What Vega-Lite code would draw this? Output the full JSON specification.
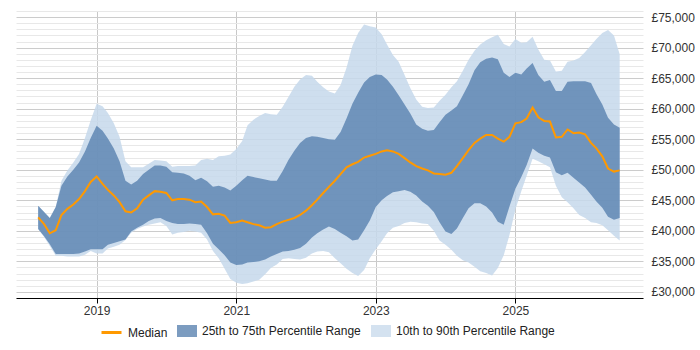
{
  "$schema": "https://vega.github.io/schema/vega-lite/v6.json",
  "width": 627,
  "height": 287,
  "autosize": {"type": "pad"},
  "padding": {"left": 16, "top": 5, "right": 0, "bottom": 0},
  "config": {"view": {"stroke": null}, "font": "Liberation Sans"},
  "data": {"values": [
    {"d":"2018-03-01","p10":40300,"p25":40300,"p50":42200,"p75":44100,"p90":44100},
    {"d":"2018-04-01","p10":39000,"p25":39100,"p50":41100,"p75":43100,"p90":43100},
    {"d":"2018-05-01","p10":37500,"p25":37800,"p50":39600,"p75":42100,"p90":42100},
    {"d":"2018-06-01","p10":35900,"p25":36200,"p50":40100,"p75":43900,"p90":43900},
    {"d":"2018-07-01","p10":35900,"p25":36200,"p50":42600,"p75":47400,"p90":48200},
    {"d":"2018-08-01","p10":35800,"p25":36200,"p50":43600,"p75":48900,"p90":49900},
    {"d":"2018-09-01","p10":35800,"p25":36200,"p50":44300,"p75":50000,"p90":51200},
    {"d":"2018-10-01","p10":35800,"p25":36300,"p50":45200,"p75":51200,"p90":52600},
    {"d":"2018-11-01","p10":36100,"p25":36600,"p50":46500,"p75":53000,"p90":55200},
    {"d":"2018-12-01","p10":36700,"p25":37000,"p50":48000,"p75":55200,"p90":58100},
    {"d":"2019-01-01","p10":36300,"p25":37000,"p50":48900,"p75":57200,"p90":60800},
    {"d":"2019-02-01","p10":36300,"p25":37000,"p50":47700,"p75":56400,"p90":60400},
    {"d":"2019-03-01","p10":37100,"p25":37700,"p50":46700,"p75":55100,"p90":59300},
    {"d":"2019-04-01","p10":37400,"p25":38000,"p50":45800,"p75":53500,"p90":57600},
    {"d":"2019-05-01","p10":37700,"p25":38300,"p50":44700,"p75":51400,"p90":55400},
    {"d":"2019-06-01","p10":38500,"p25":38600,"p50":43200,"p75":48200,"p90":51400},
    {"d":"2019-07-01","p10":39700,"p25":39900,"p50":43000,"p75":47600,"p90":50400},
    {"d":"2019-08-01","p10":40300,"p25":40500,"p50":43700,"p75":48200,"p90":50400},
    {"d":"2019-09-01","p10":40700,"p25":41000,"p50":45100,"p75":49300,"p90":50400},
    {"d":"2019-10-01","p10":41000,"p25":41600,"p50":45800,"p75":50000,"p90":51000},
    {"d":"2019-11-01","p10":41200,"p25":42000,"p50":46500,"p75":50700,"p90":51600},
    {"d":"2019-12-01","p10":41400,"p25":42100,"p50":46400,"p75":50700,"p90":51500},
    {"d":"2020-01-01","p10":40800,"p25":41600,"p50":46200,"p75":50500,"p90":51400},
    {"d":"2020-02-01","p10":39400,"p25":41300,"p50":45000,"p75":49600,"p90":50500},
    {"d":"2020-03-01","p10":39700,"p25":41100,"p50":45200,"p75":49500,"p90":50600},
    {"d":"2020-04-01","p10":39800,"p25":41100,"p50":45200,"p75":49400,"p90":50600},
    {"d":"2020-05-01","p10":40000,"p25":41200,"p50":45100,"p75":49000,"p90":50600},
    {"d":"2020-06-01","p10":39900,"p25":41100,"p50":44700,"p75":48300,"p90":50700},
    {"d":"2020-07-01","p10":39700,"p25":41000,"p50":44800,"p75":48700,"p90":51600},
    {"d":"2020-08-01","p10":38600,"p25":39600,"p50":43900,"p75":48100,"p90":51800},
    {"d":"2020-09-01","p10":36700,"p25":37900,"p50":42700,"p75":47200,"p90":51600},
    {"d":"2020-10-01","p10":35500,"p25":37000,"p50":42800,"p75":47400,"p90":52200},
    {"d":"2020-11-01","p10":33800,"p25":36000,"p50":42500,"p75":47100,"p90":52300},
    {"d":"2020-12-01","p10":32100,"p25":34800,"p50":41300,"p75":46600,"p90":52500},
    {"d":"2021-01-01","p10":31500,"p25":34400,"p50":41400,"p75":47400,"p90":53400},
    {"d":"2021-02-01","p10":31300,"p25":34500,"p50":41700,"p75":48300,"p90":54700},
    {"d":"2021-03-01","p10":31400,"p25":34800,"p50":41400,"p75":49000,"p90":57300},
    {"d":"2021-04-01","p10":31700,"p25":34900,"p50":41100,"p75":48800,"p90":58200},
    {"d":"2021-05-01","p10":32000,"p25":35000,"p50":40900,"p75":48600,"p90":58800},
    {"d":"2021-06-01","p10":32900,"p25":35300,"p50":40500,"p75":48400,"p90":59300},
    {"d":"2021-07-01","p10":33900,"p25":35800,"p50":40600,"p75":48200,"p90":59100},
    {"d":"2021-08-01","p10":34500,"p25":36200,"p50":41100,"p75":48200,"p90":59000},
    {"d":"2021-09-01","p10":35400,"p25":36600,"p50":41500,"p75":49800,"p90":60300},
    {"d":"2021-10-01","p10":35500,"p25":36700,"p50":41800,"p75":51600,"p90":61900},
    {"d":"2021-11-01","p10":35400,"p25":36900,"p50":42100,"p75":53100,"p90":63600},
    {"d":"2021-12-01","p10":35300,"p25":37200,"p50":42600,"p75":54400,"p90":64800},
    {"d":"2022-01-01","p10":35600,"p25":37900,"p50":43300,"p75":55200,"p90":65500},
    {"d":"2022-02-01","p10":36300,"p25":38900,"p50":44200,"p75":55500,"p90":65400},
    {"d":"2022-03-01","p10":36600,"p25":39600,"p50":45100,"p75":55400,"p90":64400},
    {"d":"2022-04-01","p10":36700,"p25":40200,"p50":46200,"p75":55200,"p90":63500},
    {"d":"2022-05-01","p10":36500,"p25":40700,"p50":47200,"p75":55000,"p90":62800},
    {"d":"2022-06-01","p10":35500,"p25":40300,"p50":48200,"p75":54900,"p90":62500},
    {"d":"2022-07-01","p10":34700,"p25":39700,"p50":49300,"p75":56200,"p90":63900},
    {"d":"2022-08-01","p10":33800,"p25":39100,"p50":50400,"p75":58400,"p90":66700},
    {"d":"2022-09-01","p10":33100,"p25":38400,"p50":50900,"p75":60800,"p90":70300},
    {"d":"2022-10-01","p10":32600,"p25":38600,"p50":51300,"p75":62600,"p90":72400},
    {"d":"2022-11-01","p10":33600,"p25":40100,"p50":52000,"p75":64300,"p90":73800},
    {"d":"2022-12-01","p10":35500,"p25":41700,"p50":52300,"p75":65200,"p90":73500},
    {"d":"2023-01-01","p10":37000,"p25":43900,"p50":52600,"p75":65600,"p90":73300},
    {"d":"2023-02-01","p10":38300,"p25":45000,"p50":53000,"p75":65500,"p90":72200},
    {"d":"2023-03-01","p10":39600,"p25":45700,"p50":53200,"p75":64800,"p90":70500},
    {"d":"2023-04-01","p10":40500,"p25":46300,"p50":53000,"p75":63600,"p90":68800},
    {"d":"2023-05-01","p10":40800,"p25":46500,"p50":52600,"p75":62200,"p90":67700},
    {"d":"2023-06-01","p10":41300,"p25":46700,"p50":51900,"p75":60700,"p90":65500},
    {"d":"2023-07-01","p10":41500,"p25":46400,"p50":51200,"p75":59200,"p90":63400},
    {"d":"2023-08-01","p10":41400,"p25":45800,"p50":50600,"p75":57400,"p90":61500},
    {"d":"2023-09-01","p10":41200,"p25":44800,"p50":50200,"p75":56700,"p90":60300},
    {"d":"2023-10-01","p10":41100,"p25":44100,"p50":49900,"p75":56400,"p90":60100},
    {"d":"2023-11-01","p10":40000,"p25":43100,"p50":49400,"p75":56500,"p90":60200},
    {"d":"2023-12-01","p10":38400,"p25":41400,"p50":49300,"p75":57800,"p90":61300},
    {"d":"2024-01-01","p10":37700,"p25":39900,"p50":49200,"p75":59000,"p90":62300},
    {"d":"2024-02-01","p10":36900,"p25":39500,"p50":49500,"p75":59700,"p90":63500},
    {"d":"2024-03-01","p10":35900,"p25":40400,"p50":50600,"p75":60400,"p90":64500},
    {"d":"2024-04-01","p10":35200,"p25":42100,"p50":51900,"p75":62200,"p90":66200},
    {"d":"2024-05-01","p10":34800,"p25":43700,"p50":53200,"p75":64000,"p90":68000},
    {"d":"2024-06-01","p10":34100,"p25":44500,"p50":54400,"p75":66300,"p90":69500},
    {"d":"2024-07-01","p10":33400,"p25":44500,"p50":55100,"p75":67600,"p90":70500},
    {"d":"2024-08-01","p10":33100,"p25":44000,"p50":55700,"p75":68200,"p90":71200},
    {"d":"2024-09-01","p10":32700,"p25":43000,"p50":55700,"p75":68400,"p90":71700},
    {"d":"2024-10-01","p10":33900,"p25":41500,"p50":55100,"p75":68100,"p90":72100},
    {"d":"2024-11-01","p10":36000,"p25":41000,"p50":54600,"p75":65900,"p90":70600},
    {"d":"2024-12-01","p10":39300,"p25":44000,"p50":55400,"p75":65200,"p90":70200},
    {"d":"2025-01-01","p10":43500,"p25":46900,"p50":57600,"p75":65900,"p90":71400},
    {"d":"2025-02-01","p10":46500,"p25":48800,"p50":57800,"p75":65600,"p90":70800},
    {"d":"2025-03-01","p10":49000,"p25":50800,"p50":58400,"p75":66600,"p90":70900},
    {"d":"2025-04-01","p10":51800,"p25":53500,"p50":60200,"p75":67500,"p90":71800},
    {"d":"2025-05-01","p10":51400,"p25":52800,"p50":58600,"p75":65500,"p90":69700},
    {"d":"2025-06-01","p10":50900,"p25":52300,"p50":58000,"p75":64400,"p90":68000},
    {"d":"2025-07-01","p10":50400,"p25":52000,"p50":57900,"p75":64700,"p90":67900},
    {"d":"2025-08-01","p10":47400,"p25":49600,"p50":55300,"p75":62900,"p90":66100},
    {"d":"2025-09-01","p10":45500,"p25":49100,"p50":55400,"p75":62900,"p90":66200},
    {"d":"2025-10-01","p10":44700,"p25":49500,"p50":56600,"p75":64400,"p90":67700},
    {"d":"2025-11-01","p10":43700,"p25":48700,"p50":56000,"p75":64500,"p90":67900},
    {"d":"2025-12-01","p10":42600,"p25":47900,"p50":56100,"p75":64500,"p90":68300},
    {"d":"2026-01-01","p10":42100,"p25":47100,"p50":55800,"p75":64500,"p90":69300},
    {"d":"2026-02-01","p10":41400,"p25":45900,"p50":54400,"p75":64200,"p90":70400},
    {"d":"2026-03-01","p10":41300,"p25":44800,"p50":53500,"p75":62400,"p90":71400},
    {"d":"2026-04-01","p10":40900,"p25":43800,"p50":52200,"p75":60700,"p90":72400},
    {"d":"2026-05-01","p10":40100,"p25":42300,"p50":50200,"p75":58500,"p90":72900},
    {"d":"2026-06-01","p10":39200,"p25":41800,"p50":49700,"p75":57400,"p90":72000},
    {"d":"2026-07-01","p10":38400,"p25":42100,"p50":49900,"p75":56900,"p90":68900}
  ]},
  "encoding": {
    "x": {
      "field": "d", "type": "temporal",
      "scale": {"type": "utc", "domain": [{"year": 2017, "month": 11, "date": 5, "utc": true}, {"year": 2026, "month": 10, "date": 31, "utc": true}]},
      "axis": {
        "title": null,
        "values": [{"year": 2019, "month": 1, "date": 1, "utc": true}, {"year": 2021, "month": 1, "date": 1, "utc": true}, {"year": 2023, "month": 1, "date": 1, "utc": true}, {"year": 2025, "month": 1, "date": 1, "utc": true}],
        "format": "%Y", "formatType": "utc",
        "domainColor": "#000000", "domainWidth": 1,
        "tickColor": "#000000", "tickSize": 5,
        "gridColor": "#c8c8c8",
        "labelColor": "#333333", "labelFontSize": 12, "labelPadding": 2, "labelFlush": false
      }
    }
  },
  "layer": [
    {
      "mark": {"type": "area", "opacity": 0.85},
      "encoding": {
        "y": {
          "field": "p10", "type": "quantitative",
          "scale": {"domain": [29000, 76000], "nice": false, "zero": false},
          "axis": {
            "title": null, "orient": "right", "tickCount": 200,
            "values": [29000,30000,31000,32000,33000,34000,35000,36000,37000,38000,39000,40000,41000,42000,43000,44000,45000,46000,47000,48000,49000,50000,51000,52000,53000,54000,55000,56000,57000,58000,59000,60000,61000,62000,63000,64000,65000,66000,67000,68000,69000,70000,71000,72000,73000,74000,75000,76000],
            "labelExpr": "datum.value % 5000 === 0 ? '£' + format(datum.value, ',') : ''",
            "labelOverlap": false,
            "domain": false, "ticks": false, "labelPadding": 8,
            "gridColor": {"condition": {"test": "datum.value % 5000 === 0", "value": "#cccccc"}, "value": "#e8e8e8"},
            "labelColor": "#333333", "labelFontSize": 12
          }
        },
        "y2": {"field": "p90"},
        "fill": {
          "datum": "10th to 90th Percentile Range", "type": "nominal",
          "scale": {"domain": ["25th to 75th Percentile Range", "10th to 90th Percentile Range"], "range": ["#507bab", "#c6d8eb"]},
          "legend": {
            "title": null, "orient": "none", "direction": "horizontal",
            "legendX": 161, "legendY": 310,
            "symbolSize": 400,
            "symbolType": "M-1,-0.6H1V0.6H-1Z",
            "symbolStrokeWidth": 0,
            "symbolOpacity": 0.75,
            "labelFontSize": 12, "labelColor": "#222222", "labelOffset": 5, "columnPadding": 10
          }
        }
      }
    },
    {
      "mark": {"type": "area", "opacity": 0.75},
      "encoding": {
        "y": {"field": "p25", "type": "quantitative"},
        "y2": {"field": "p75"},
        "fill": {"datum": "25th to 75th Percentile Range", "type": "nominal"}
      }
    },
    {
      "mark": {"type": "line", "strokeWidth": 2},
      "encoding": {
        "y": {"field": "p50", "type": "quantitative"},
        "stroke": {
          "datum": "Median", "type": "nominal",
          "scale": {"domain": ["Median"], "range": ["#ff9900"]},
          "legend": {
            "title": null, "orient": "none", "direction": "horizontal",
            "legendX": 84, "legendY": 310,
            "symbolSize": 400,
            "symbolType": "stroke",
            "symbolStrokeWidth": 3,
            "symbolOpacity": 1,
            "labelFontSize": 12, "labelColor": "#222222", "labelOffset": 5
          }
        }
      }
    }
  ]
}
